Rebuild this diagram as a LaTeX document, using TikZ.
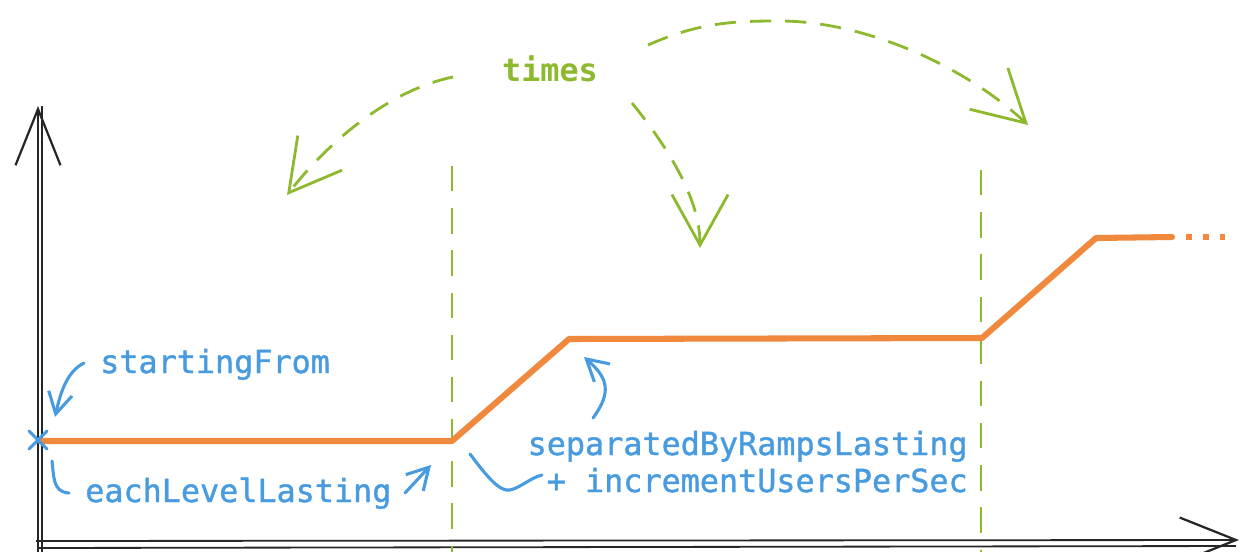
\documentclass[tikz,border=0pt]{standalone}
\usepackage{fontspec}
\setmonofont{DejaVu Sans Mono}
\newfontfamily\notefont[FakeBold=1.2]{DejaVu Sans Mono}
\usetikzlibrary{arrows.meta}
\definecolor{cgreen}{RGB}{141,185,46}
\definecolor{cblue}{RGB}{72,155,222}
\definecolor{corange}{RGB}{240,136,62}
\tikzset{
  lbl/.style={text=cblue,font=\notefont\fontsize{22.6}{27}\selectfont,inner sep=0pt},
  axisline/.style={draw=black!85,line width=1.3pt},
  axistip/.style={-{Straight Barb[length=40pt,width=32pt,line width=1.6pt]}},
  level/.style={draw=corange,line width=4.3pt,line join=round,line cap=round},
  guide/.style={draw=cgreen,line width=2pt,dash pattern=on 18pt off 12pt},
  loop/.style={draw=cgreen,line width=2pt,dash pattern=on 15pt off 10pt,
    -{Straight Barb[length=36pt,width=40pt,line width=2pt]}},
  note/.style={draw=cblue,line width=2.2pt,line cap=round},
  notetip/.style={-{Straight Barb[length=15pt,width=17pt,line width=2.2pt]}}
}
\begin{document}
\begin{tikzpicture}[x=0.025cm,y=-0.025cm]
\useasboundingbox (0,0) rectangle (1242,552);
% axes
\coordinate (o) at (38,546);
\coordinate (ytop) at (38,106);
\coordinate (yend) at (38,552);
\coordinate (xend) at (1239,540);
\draw[axisline,axistip] (yend) -- (ytop);
\draw[axisline] ([xshift=3]yend) -- ([xshift=3]ytop);
\draw[axisline] (38,548) -- (1236,546);
\draw[axisline,axistip] (36,541) -- (xend);
% guides
\coordinate (g1t) at (452,166);
\coordinate (g1b) at (452,552);
\coordinate (g2t) at (981,170);
\coordinate (g2b) at (981,552);
\draw[guide] (g1t) -- (g1b);
\draw[guide] (g2t) -- (g2b);
% levels
\coordinate (p0) at (40,441);
\coordinate (p1) at (452,441);
\coordinate (p2) at (569,339);
\coordinate (p3) at (982,338);
\coordinate (p4) at (1096,238);
\coordinate (p5) at (1172,237);
\coordinate (p6) at (1236,237);
\draw[level] (p0) -- (p1) -- (p2) -- (p3) -- (p4) -- (p5);
\draw[draw=corange,line width=4.3pt,dash pattern=on 4pt off 8pt] ([xshift=10]p5) -- (p6);
% start marker
\draw[note] (29,431) -- (47,449) (47,431) -- (29,449);
% labels
\node[lbl,anchor=base west] (start) at (100,373) {startingFrom};
\node[lbl,anchor=base west] (each) at (85,502) {eachLevelLasting};
\node[lbl,anchor=base east] (sep) at (968,455) {separatedByRampsLasting};
\node[lbl,anchor=base east] (inc) at (968,492) {+ incrementUsersPerSec};
\node[text=cgreen,font=\ttfamily\bfseries\fontsize{22.6}{27}\selectfont,inner sep=0pt,anchor=base] (times) at (550,81) {times};
% blue notes
\coordinate (a1s) at (84,363);
\coordinate (a1e) at (55,417);
\draw[note,notetip] (a1s) .. controls (66,372) and (60,395) .. (a1e);
\coordinate (h1s) at (52,461);
\coordinate (h1e) at (69,493);
\draw[note] (h1s) .. controls (54,475) and (52,492) .. (h1e);
\coordinate (a2s) at (405,493);
\coordinate (a2e) at (431,465);
\draw[note,notetip] (a2s) -- (a2e);
\coordinate (s1s) at (470,454);
\coordinate (s1e) at (542,475);
\draw[note] (s1s) .. controls (488,478) and (500,492) .. (510,490) .. controls (520,488) and (530,478) .. (s1e);
\coordinate (a3s) at (593,418);
\coordinate (a3e) at (584,357);
\draw[note,notetip] (a3s) .. controls (612,392) and (608,378) .. (a3e);
% green loops
\coordinate (l1s) at (453,77);
\coordinate (l1e) at (287,195);
\draw[loop] (l1s) .. controls (390,90) and (330,140) .. (l1e);
\coordinate (l2s) at (632,103);
\coordinate (l2e) at (700,248);
\draw[loop] (l2s) .. controls (670,150) and (700,200) .. (l2e);
\coordinate (l3s) at (648,45);
\coordinate (l3m) at (780,21);
\coordinate (l3e) at (1028,125);
\draw[loop] (l3s) .. controls (700,22) and (735,21) .. (l3m) .. controls (860,21) and (960,62) .. (l3e);
\end{tikzpicture}
\end{document}
